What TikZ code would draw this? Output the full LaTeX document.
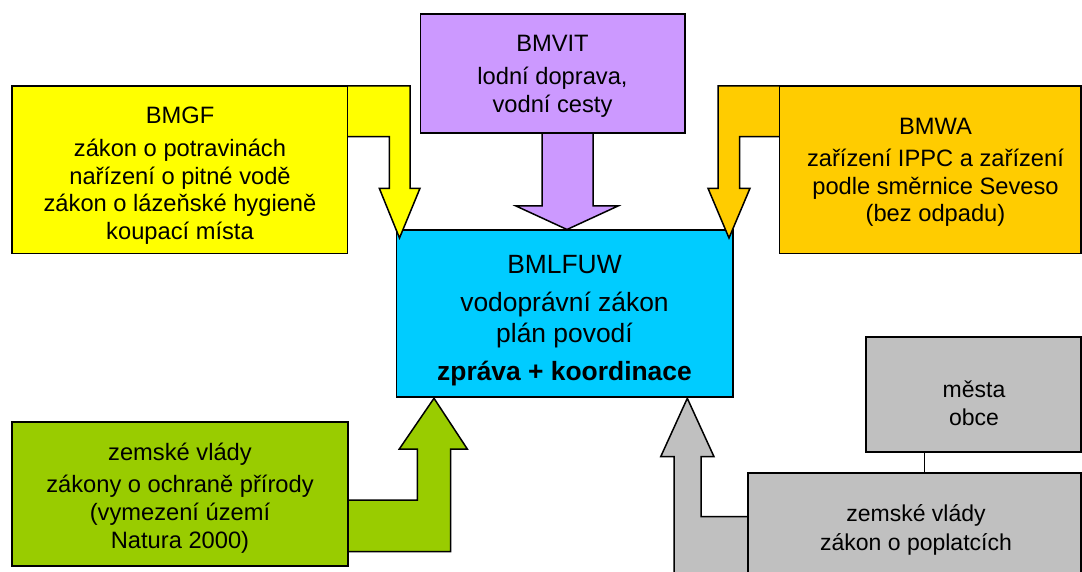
\documentclass[tikz,border=0pt]{standalone}
\usepackage{fontspec}
\setmainfont{Liberation Sans}
\definecolor{cYel}{HTML}{FFFF00}
\definecolor{cPur}{HTML}{CC99FF}
\definecolor{cOra}{HTML}{FFCC00}
\definecolor{cCya}{HTML}{00CCFF}
\definecolor{cGre}{HTML}{99CC00}
\definecolor{cGra}{HTML}{C0C0C0}
\begin{document}
\begin{tikzpicture}[x=1pt,y=-1pt,
  box/.style={draw=black,line width=1.8pt,inner sep=0pt,outer sep=0pt,anchor=north west},
  blockarrow/.style={draw=black,line width=1.5pt,line join=miter},
  lbl/.style={inner sep=0pt,anchor=base,font=\fontsize{23.7}{28}\selectfont},
  lblc/.style={inner sep=0pt,anchor=base,font=\fontsize{26.4}{32}\selectfont},
  lblg/.style={inner sep=0pt,anchor=base,font=\fontsize{23}{28}\selectfont}]
\useasboundingbox (0,0) rectangle (1082,572);
\clip (0,0) rectangle (1082,572);
% central box
\node[box,fill=cCya,minimum width=336.5pt,minimum height=167.3pt] (bmlfuw) at (396.5,230) {};
% block arrows
\draw[blockarrow,fill=cYel] (340,86) -- (410,86) -- (410,188.3) -- (420,188.3) -- (399.5,238) -- (379.3,188.3) -- (389.3,188.3) -- (389.3,136.7) -- (340,136.7) -- cycle;
\draw[blockarrow,fill=cOra] (787,86) -- (718,86) -- (718,188.3) -- (708,188.3) -- (729,238) -- (750,188.3) -- (739.5,188.3) -- (739.5,136.7) -- (787,136.7) -- cycle;
\draw[blockarrow,fill=cPur] (542,125) -- (542,206) -- (516,206) -- (567,229.5) -- (618,206) -- (593,206) -- (593,125) -- cycle;
\draw[blockarrow,fill=cGre] (340,500) -- (417.3,500) -- (417.3,449) -- (399.3,449) -- (434,398.3) -- (467.3,449) -- (450.7,449) -- (450.7,551.7) -- (340,551.7) -- cycle;
\draw[blockarrow,fill=cGra] (674,600) -- (674,456.7) -- (660.7,456.7) -- (687.3,398.3) -- (714,456.7) -- (701,456.7) -- (701,516.7) -- (756,516.7) -- (756,600) -- cycle;
% source boxes
\node[box,fill=cYel,minimum width=335.5pt,minimum height=167.5pt] (bmgf) at (12,86) {};
\node[box,fill=cPur,minimum width=264.5pt,minimum height=119pt] (bmvit) at (420.5,14) {};
\node[box,fill=cOra,minimum width=301.5pt,minimum height=167.5pt] (bmwa) at (779.5,86) {};
\node[box,fill=cGre,minimum width=336.3pt,minimum height=143.7pt] (zvnat) at (12,422.3) {};
\node[box,fill=cGra,minimum width=215.4pt,minimum height=115pt] (mesta) at (865.6,336.7) {};
\node[box,fill=cGra,minimum width=332.7pt,minimum height=150pt] (zvpopl) at (748.3,473.3) {};
\draw[line width=1.3pt] (mesta.south -| 924.4,0) -- (zvpopl.north -| 924.4,0);
% texts
\node[lbl] (t1a) at (180,124) {BMGF};
\node[lbl] (t1b) at (180,156.7) {zákon o potravinách};
\node[lbl] (t1c) at (180,184.3) {nařízení o pitné vodě};
\node[lbl] (t1d) at (180,211.7) {zákon o lázeňské hygieně};
\node[lbl] (t1e) at (180,239.3) {koupací místa};
\node[lbl] (t2a) at (552.5,51.7) {BMVIT};
\node[lbl] (t2b) at (552.5,84.3) {lodní doprava,};
\node[lbl] (t2c) at (552.5,112.3) {vodní cesty};
\node[lbl] (t3a) at (935.5,134.3) {BMWA};
\node[lbl] (t3b) at (935.5,166.7) {zařízení IPPC a zařízení};
\node[lbl] (t3c) at (935.5,195) {podle směrnice Seveso};
\node[lbl] (t3d) at (935.5,221.7) {(bez odpadu)};
\node[lblc] (t4a) at (564.5,273.3) {BMLFUW};
\node[lblc] (t4b) at (564.5,311.5) {vodoprávní zákon};
\node[lblc] (t4c) at (564.5,342.7) {plán povodí};
\node[lblc] (t4d) at (564.5,380) {\bfseries zpráva + koordinace};
\node[lbl] (t5a) at (180,460) {zemské vlády};
\node[lbl] (t5b) at (180,492.3) {zákony o ochraně přírody};
\node[lbl] (t5c) at (180,520) {(vymezení území};
\node[lbl] (t5d) at (180,548.3) {Natura 2000)};
\node[lblg] (t6a) at (974,397.3) {města};
\node[lblg] (t6b) at (974,425) {obce};
\node[lblg] (t7a) at (916,521.7) {zemské vlády};
\node[lblg] (t7b) at (916,550) {zákon o poplatcích};
\end{tikzpicture}
\end{document}
